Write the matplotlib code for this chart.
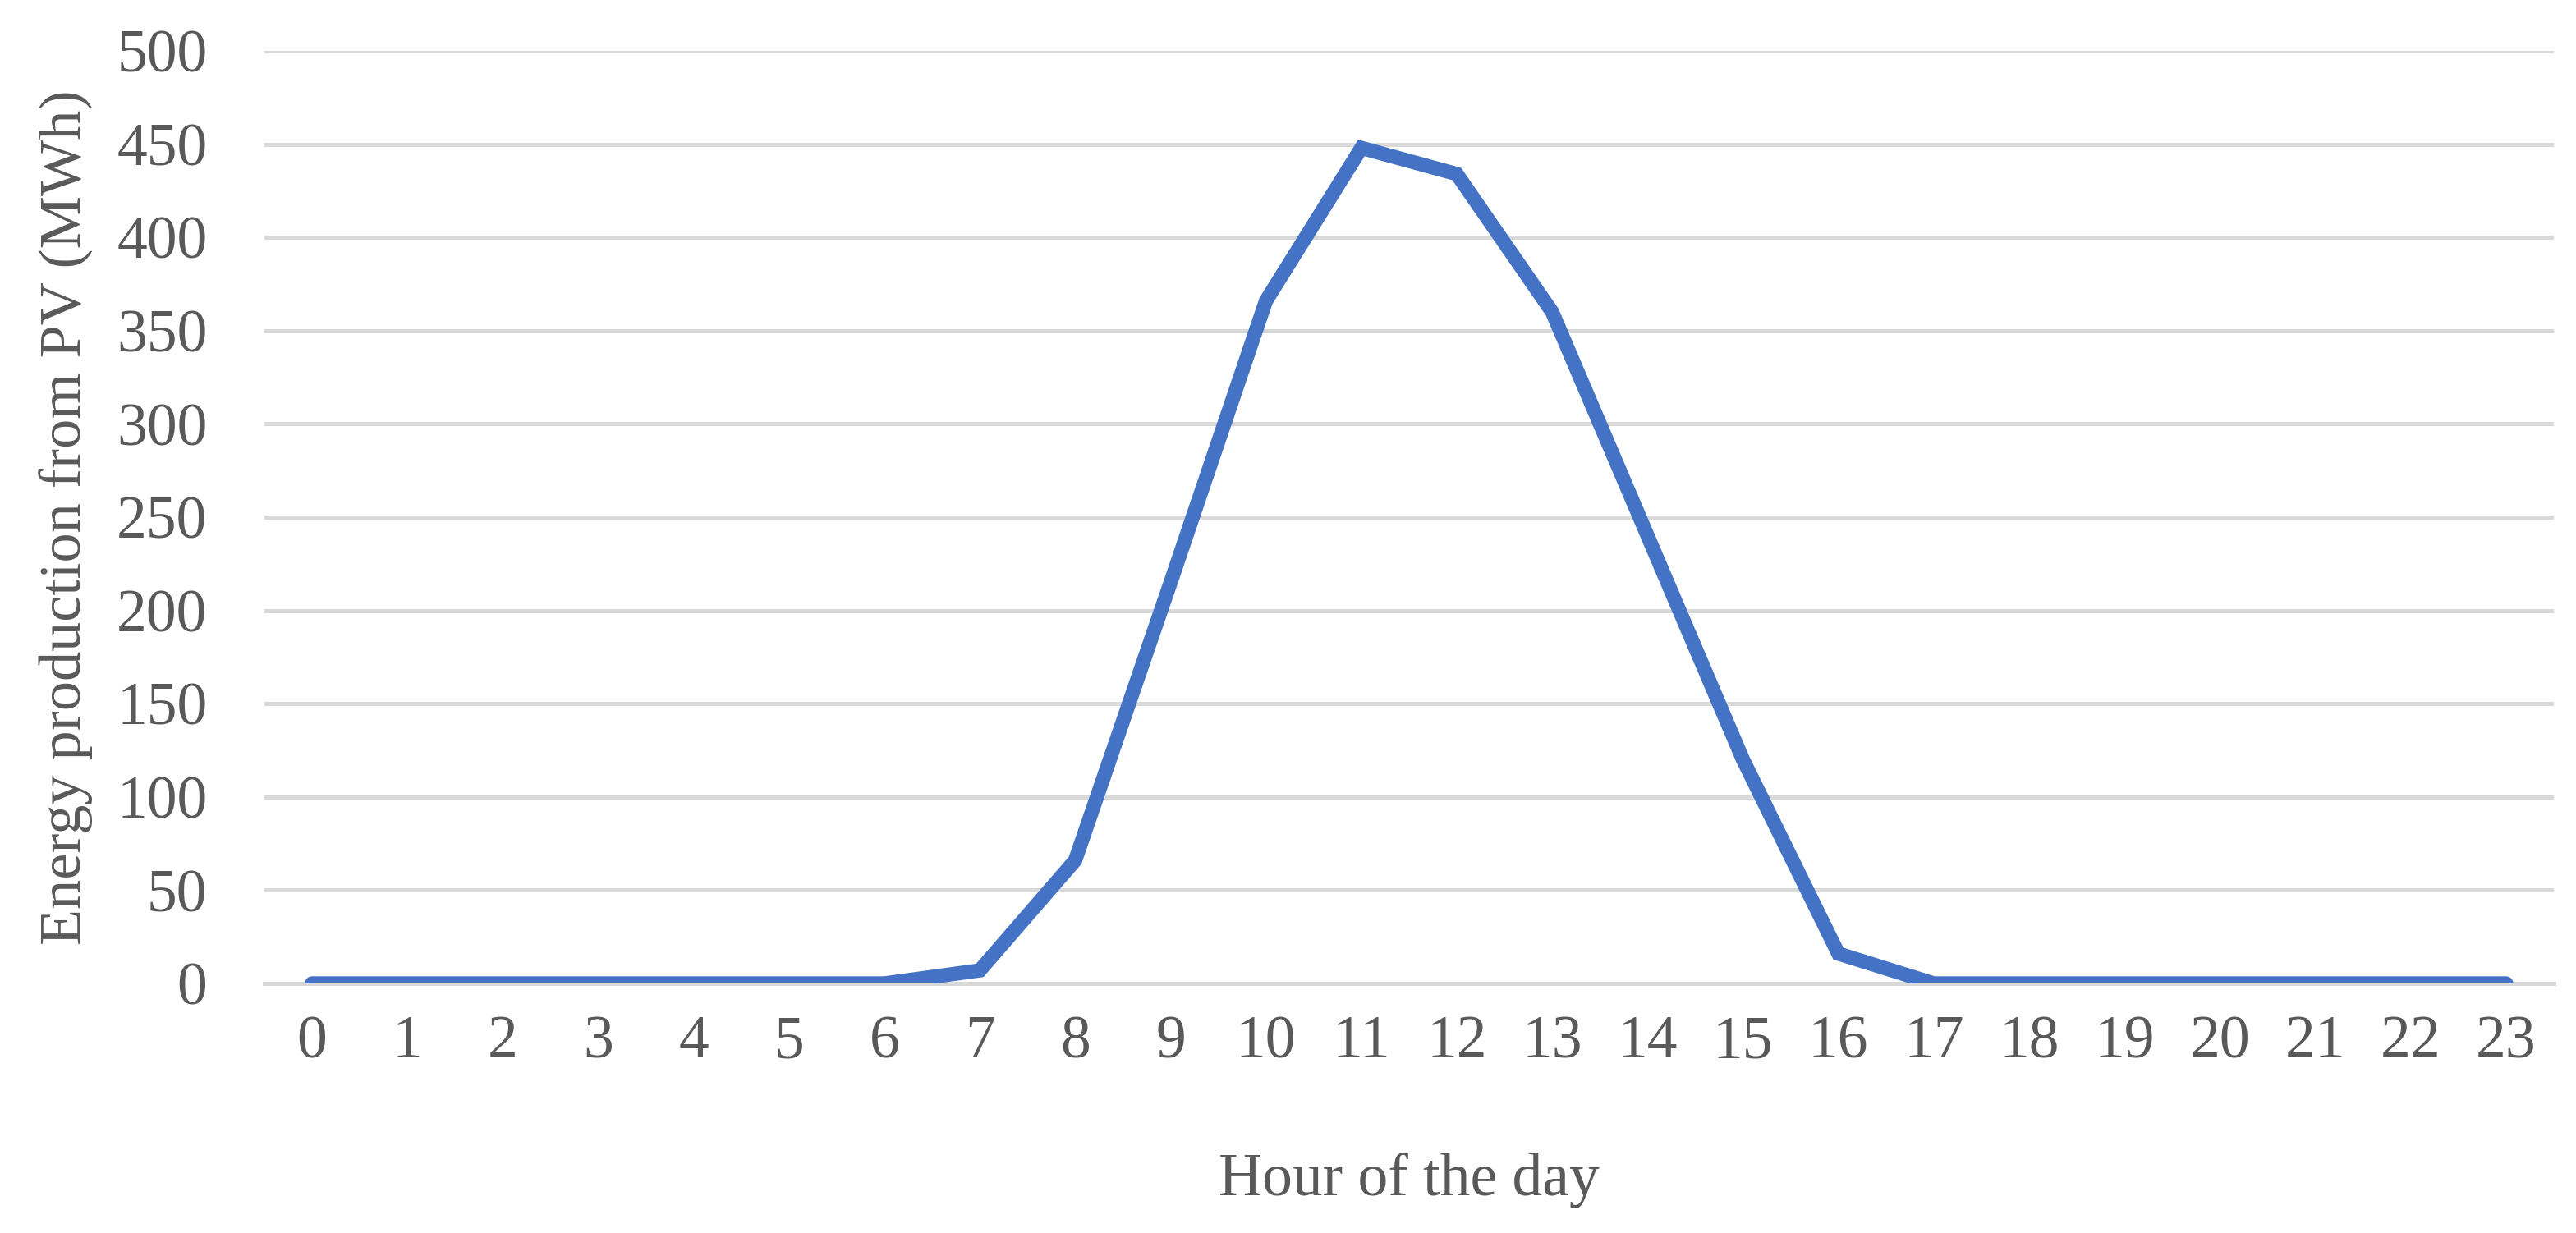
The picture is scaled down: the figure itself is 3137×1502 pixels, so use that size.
import matplotlib
matplotlib.use("Agg")
import matplotlib.pyplot as plt

hours = list(range(24))
hour_labels = [str(h) for h in hours]
energy_mwh = [0, 0, 0, 0, 0, 0, 0, 7, 66, 215, 366, 448, 434, 360, 240, 120, 16, 0, 0, 0, 0, 0, 0, 0]
yticks = [0, 50, 100, 150, 200, 250, 300, 350, 400, 450, 500]

plt.rcParams['font.family'] = ['Liberation Serif', 'DejaVu Serif']
text_color = '#595959'

fig = plt.figure(figsize=(31.37, 15.02), dpi=100)
ax = fig.add_axes([0.1026, 0.2024, 0.8888, 0.7563])

ax.plot(hours, energy_mwh, color='#4472C4', linewidth=12.5, solid_capstyle='round',
        solid_joinstyle='miter', zorder=3)

ax.set_xlim(-0.5, 23.5)
ax.set_ylim(0, 500)
ax.set_yticks(yticks)
ax.set_xticks(hours)
ax.set_xticklabels(hour_labels)
ax.yaxis.grid(True, color='#D9D9D9', linewidth=3.6, zorder=0)
ax.set_axisbelow(True)
for s in ['top', 'right', 'left']:
    ax.spines[s].set_visible(False)
ax.spines['bottom'].set_color('#D9D9D9')
ax.spines['bottom'].set_linewidth(3.6)
ax.tick_params(axis='both', length=0, labelsize=53, colors=text_color)
ax.tick_params(axis='y', pad=50)
ax.tick_params(axis='x', pad=28)

ax.set_xlabel('Hour of the day', fontsize=53, color=text_color, labelpad=72)
ax.set_ylabel('Energy production from PV (MWh)', fontsize=52, color=text_color, labelpad=20)

fig.savefig('out.png', dpi=100, facecolor='white')
